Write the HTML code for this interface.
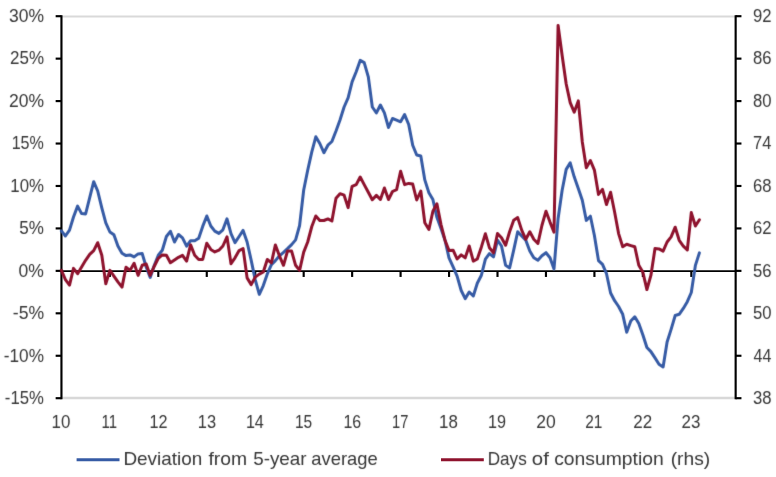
<!DOCTYPE html>
<html lang="en"><head><meta charset="utf-8"><title>Chart</title>
<style>html,body{margin:0;padding:0;background:#fff}body{width:776px;height:477px;overflow:hidden}svg{display:block}text{font-family:"Liberation Sans",sans-serif;fill:#363636}</style></head><body>
<svg width="776" height="477" viewBox="0 0 776 477">
<rect width="776" height="477" fill="#fff"/>
<defs><filter id="soft" x="0" y="0" width="776" height="477" filterUnits="userSpaceOnUse" color-interpolation-filters="sRGB"><feConvolveMatrix order="3" kernelMatrix="0.0100 0.0800 0.0100 0.0800 0.6400 0.0800 0.0100 0.0800 0.0100" divisor="1" edgeMode="duplicate" preserveAlpha="false"/></filter></defs>
<line x1="61.45" y1="16.5" x2="735.65" y2="16.5" stroke="#d9d9d9" stroke-width="2"/>
<line x1="61.45" y1="398.05" x2="735.65" y2="398.05" stroke="#d8d8d8" stroke-width="2.4"/>
<g stroke="#000" stroke-width="2.15" fill="none">
<line x1="61.45" y1="15.2" x2="61.45" y2="399.2"/>
<line x1="735.65" y1="15.2" x2="735.65" y2="399.2"/>
<line x1="61.45" y1="271.15" x2="735.65" y2="271.15" stroke-width="1.75"/>
<line x1="55.65" y1="16.20" x2="61.45" y2="16.20"/>
<line x1="735.65" y1="16.20" x2="741.45" y2="16.20"/>
<line x1="55.65" y1="58.64" x2="61.45" y2="58.64"/>
<line x1="735.65" y1="58.64" x2="741.45" y2="58.64"/>
<line x1="55.65" y1="101.09" x2="61.45" y2="101.09"/>
<line x1="735.65" y1="101.09" x2="741.45" y2="101.09"/>
<line x1="55.65" y1="143.53" x2="61.45" y2="143.53"/>
<line x1="735.65" y1="143.53" x2="741.45" y2="143.53"/>
<line x1="55.65" y1="185.98" x2="61.45" y2="185.98"/>
<line x1="735.65" y1="185.98" x2="741.45" y2="185.98"/>
<line x1="55.65" y1="228.42" x2="61.45" y2="228.42"/>
<line x1="735.65" y1="228.42" x2="741.45" y2="228.42"/>
<line x1="55.65" y1="270.87" x2="61.45" y2="270.87"/>
<line x1="735.65" y1="270.87" x2="741.45" y2="270.87"/>
<line x1="55.65" y1="313.31" x2="61.45" y2="313.31"/>
<line x1="735.65" y1="313.31" x2="741.45" y2="313.31"/>
<line x1="55.65" y1="355.76" x2="61.45" y2="355.76"/>
<line x1="735.65" y1="355.76" x2="741.45" y2="355.76"/>
<line x1="55.65" y1="398.20" x2="61.45" y2="398.20"/>
<line x1="735.65" y1="398.20" x2="741.45" y2="398.20"/>
<line x1="109.86" y1="271.15" x2="109.86" y2="276.95"/>
<line x1="158.31" y1="271.15" x2="158.31" y2="276.95"/>
<line x1="206.77" y1="271.15" x2="206.77" y2="276.95"/>
<line x1="255.22" y1="271.15" x2="255.22" y2="276.95"/>
<line x1="303.68" y1="271.15" x2="303.68" y2="276.95"/>
<line x1="352.14" y1="271.15" x2="352.14" y2="276.95"/>
<line x1="400.59" y1="271.15" x2="400.59" y2="276.95"/>
<line x1="449.05" y1="271.15" x2="449.05" y2="276.95"/>
<line x1="497.50" y1="271.15" x2="497.50" y2="276.95"/>
<line x1="545.96" y1="271.15" x2="545.96" y2="276.95"/>
<line x1="594.42" y1="271.15" x2="594.42" y2="276.95"/>
<line x1="642.87" y1="271.15" x2="642.87" y2="276.95"/>
<line x1="691.33" y1="271.15" x2="691.33" y2="276.95"/>
</g>
<g font-size="18.0px" filter="url(#soft)">
<text transform="translate(9.02,22.0) scale(0.9730,1)">30%</text>
<text transform="translate(753.05,22.0) scale(0.9258,1)">92</text>
<text transform="translate(10.04,64.4) scale(0.9442,1)">25%</text>
<text transform="translate(753.05,64.4) scale(0.9265,1)">86</text>
<text transform="translate(9.02,106.9) scale(0.9741,1)">20%</text>
<text transform="translate(753.05,106.9) scale(0.9261,1)">80</text>
<text transform="translate(11.64,149.3) scale(0.8947,1)">15%</text>
<text transform="translate(753.07,149.3) scale(0.9129,1)">74</text>
<text transform="translate(10.34,191.8) scale(0.9343,1)">10%</text>
<text transform="translate(753.07,191.8) scale(0.9252,1)">68</text>
<text transform="translate(19.29,234.2) scale(0.9469,1)">5%</text>
<text transform="translate(753.07,234.2) scale(0.9252,1)">62</text>
<text transform="translate(18.52,276.7) scale(0.9760,1)">0%</text>
<text transform="translate(753.05,276.7) scale(0.9263,1)">56</text>
<text transform="translate(12.77,319.1) scale(0.9793,1)">-5%</text>
<text transform="translate(753.05,319.1) scale(0.9263,1)">50</text>
<text transform="translate(3.79,361.6) scale(0.9569,1)">-10%</text>
<text transform="translate(753.54,361.6) scale(0.8879,1)">44</text>
<text transform="translate(4.81,404.0) scale(0.9294,1)">-15%</text>
<text transform="translate(753.06,404.0) scale(0.9256,1)">38</text>
<text transform="translate(51.58,427.9) scale(0.9410,1)">10</text>
<text transform="translate(101.48,427.9) scale(0.8306,1)">11</text>
<text transform="translate(149.62,427.9) scale(0.9001,1)">12</text>
<text transform="translate(197.86,427.9) scale(0.9117,1)">13</text>
<text transform="translate(245.88,427.9) scale(0.8979,1)">14</text>
<text transform="translate(294.94,427.9) scale(0.8606,1)">15</text>
<text transform="translate(343.39,427.9) scale(0.8860,1)">16</text>
<text transform="translate(391.98,427.9) scale(0.8167,1)">17</text>
<text transform="translate(439.07,427.9) scale(0.9408,1)">18</text>
<text transform="translate(488.12,427.9) scale(0.9001,1)">19</text>
<text transform="translate(536.28,427.9) scale(0.9732,1)">20</text>
<text transform="translate(585.13,427.9) scale(0.8568,1)">21</text>
<text transform="translate(633.28,427.9) scale(0.9427,1)">22</text>
<text transform="translate(681.55,427.9) scale(0.9421,1)">23</text>
</g>
<g filter="url(#soft)">
<polyline points="61.4,230.9 65.4,236.0 69.5,230.1 73.5,217.0 77.6,206.1 81.6,213.6 85.6,214.0 89.7,197.7 93.7,181.7 97.7,191.0 101.8,207.8 105.8,222.9 109.9,232.0 113.9,234.7 117.9,246.1 122.0,253.3 126.0,255.6 130.0,254.9 134.1,256.9 138.1,253.9 142.2,253.6 146.2,267.0 150.2,277.4 154.3,265.3 158.3,255.3 162.3,250.2 166.4,236.5 170.4,231.3 174.5,242.0 178.5,234.5 182.5,237.9 186.6,246.2 190.6,240.7 194.7,240.7 198.7,238.2 202.7,226.4 206.8,216.0 210.8,226.0 214.8,231.1 218.9,233.4 222.9,229.8 227.0,218.8 231.0,233.6 235.0,242.6 239.1,236.5 243.1,230.4 247.1,242.0 251.2,260.3 255.2,279.6 259.3,294.4 263.3,285.6 267.3,273.9 271.4,264.7 275.4,260.6 279.5,255.8 283.5,252.3 287.5,248.6 291.6,244.6 295.6,239.9 299.6,225.5 303.7,190.0 307.7,170.3 311.8,151.9 315.8,136.8 319.8,143.5 323.9,152.7 327.9,145.2 331.9,141.5 336.0,131.0 340.0,120.0 344.1,107.0 348.1,97.8 352.1,81.9 356.2,71.8 360.2,60.4 364.2,62.6 368.3,76.8 372.3,107.0 376.4,112.9 380.4,105.0 384.4,112.9 388.5,127.5 392.5,118.5 396.6,120.1 400.6,121.8 404.6,114.6 408.7,124.5 412.7,145.2 416.7,155.0 420.8,156.0 424.8,179.9 428.9,192.8 432.9,199.5 436.9,217.3 441.0,228.6 445.0,240.2 449.0,257.8 453.1,266.8 457.1,276.1 461.2,290.5 465.2,298.6 469.2,292.0 473.3,296.0 477.3,283.3 481.4,275.2 485.4,259.1 489.4,253.6 493.5,256.9 497.5,240.2 501.5,246.0 505.6,265.3 509.6,267.9 513.7,250.2 517.7,231.8 521.7,236.0 525.8,240.2 529.8,251.1 533.8,257.8 537.9,260.2 541.9,255.8 546.0,252.7 550.0,257.7 554.0,269.0 558.1,218.5 562.1,190.5 566.2,169.4 570.2,162.9 574.2,176.8 578.3,188.6 582.3,200.3 586.3,220.4 590.4,216.2 594.4,235.5 598.5,260.6 602.5,264.4 606.5,273.7 610.6,293.0 614.6,300.7 618.6,306.5 622.7,314.3 626.7,332.2 630.8,321.0 634.8,316.8 638.8,323.5 642.9,335.0 646.9,347.5 650.9,351.6 655.0,357.9 659.0,364.2 663.1,367.0 667.1,342.0 671.1,329.4 675.2,315.5 679.2,314.3 683.3,308.4 687.3,301.7 691.3,292.5 695.4,265.4 699.4,252.9" fill="none" stroke="#365BA5" stroke-width="3" stroke-linejoin="round" stroke-linecap="round"/>
<polyline points="61.4,270.4 65.4,279.6 69.5,285.1 73.5,268.4 77.6,273.7 81.6,267.0 85.6,260.3 89.7,254.4 93.7,250.6 97.7,242.7 101.8,255.3 105.8,283.8 109.9,270.4 113.9,276.2 117.9,281.8 122.0,287.1 126.0,267.3 130.0,270.4 134.1,263.3 138.1,275.4 142.2,265.3 146.2,264.0 150.2,275.4 154.3,266.2 158.3,258.3 162.3,254.9 166.4,255.3 170.4,262.8 174.5,260.0 178.5,257.3 182.5,255.3 186.6,261.1 190.6,244.9 194.7,255.3 198.7,259.5 202.7,259.5 206.8,243.2 210.8,249.4 214.8,251.9 218.9,250.2 222.9,246.0 227.0,236.8 231.0,263.7 235.0,257.8 239.1,250.6 243.1,248.6 247.1,277.9 251.2,284.6 255.2,277.1 259.3,274.1 263.3,272.0 267.3,259.5 271.4,262.8 275.4,244.9 279.5,256.1 283.5,265.3 287.5,251.1 291.6,251.1 295.6,265.3 299.6,270.4 303.7,252.1 307.7,242.0 311.8,226.5 315.8,216.0 319.8,220.5 323.9,220.5 327.9,218.9 331.9,221.0 336.0,198.2 340.0,193.7 344.1,195.2 348.1,207.6 352.1,186.3 356.2,184.6 360.2,177.0 364.2,184.6 368.3,192.3 372.3,199.7 376.4,195.4 380.4,199.5 384.4,188.0 388.5,199.5 392.5,191.5 396.6,189.6 400.6,171.2 404.6,184.6 408.7,183.4 412.7,184.1 416.7,200.0 420.8,191.0 424.8,222.8 428.9,229.5 432.9,211.2 436.9,203.7 441.0,224.5 445.0,240.2 449.0,250.6 453.1,250.2 457.1,259.0 461.2,254.9 465.2,257.8 469.2,246.0 473.3,261.1 477.3,259.0 481.4,246.9 485.4,233.8 489.4,247.7 493.5,252.8 497.5,233.5 501.5,237.7 505.6,245.2 509.6,231.8 513.7,220.3 517.7,217.6 521.7,230.1 525.8,239.3 529.8,231.8 533.8,239.3 537.9,243.5 541.9,225.5 546.0,211.2 550.0,222.1 554.0,232.2 558.1,25.4 562.1,55.3 566.2,84.0 570.2,102.6 574.2,112.2 578.3,100.9 582.3,142.0 586.3,167.8 590.4,160.5 594.4,170.1 598.5,194.4 602.5,189.4 606.5,204.5 610.6,192.2 614.6,212.0 618.6,233.6 622.7,246.8 626.7,244.3 630.8,245.6 634.8,246.8 638.8,265.3 642.9,272.3 646.9,289.6 650.9,275.4 655.0,248.6 659.0,248.9 663.1,251.1 667.1,242.0 671.1,236.9 675.2,227.2 679.2,240.3 683.3,246.1 687.3,250.0 691.3,212.6 695.4,226.0 699.4,219.8" fill="none" stroke="#8E122D" stroke-width="3" stroke-linejoin="round" stroke-linecap="round"/>
</g>
<line x1="76.6" y1="459.8" x2="119.5" y2="459.8" stroke="#365BA5" stroke-width="3"/>
<line x1="441" y1="459.8" x2="483.8" y2="459.8" stroke="#8E122D" stroke-width="3"/>
<g font-size="18.2px" filter="url(#soft)">
<text x="123.4" y="465.3" textLength="78.9" lengthAdjust="spacingAndGlyphs">Deviation</text>
<text x="208.4" y="465.3" textLength="38.6" lengthAdjust="spacingAndGlyphs">from</text>
<text x="253.2" y="465.3" textLength="53.4" lengthAdjust="spacingAndGlyphs">5-year</text>
<text x="311.3" y="465.3" textLength="66.4" lengthAdjust="spacingAndGlyphs">average</text>
<text x="487.7" y="465.3" textLength="39.0" lengthAdjust="spacingAndGlyphs">Days</text>
<text x="531.8" y="465.3" textLength="17.0" lengthAdjust="spacingAndGlyphs">of</text>
<text x="554.2" y="465.3" textLength="109.6" lengthAdjust="spacingAndGlyphs">consumption</text>
<text x="670.7" y="465.3" textLength="39.5" lengthAdjust="spacingAndGlyphs">(rhs)</text>
</g>
</svg></body></html>
